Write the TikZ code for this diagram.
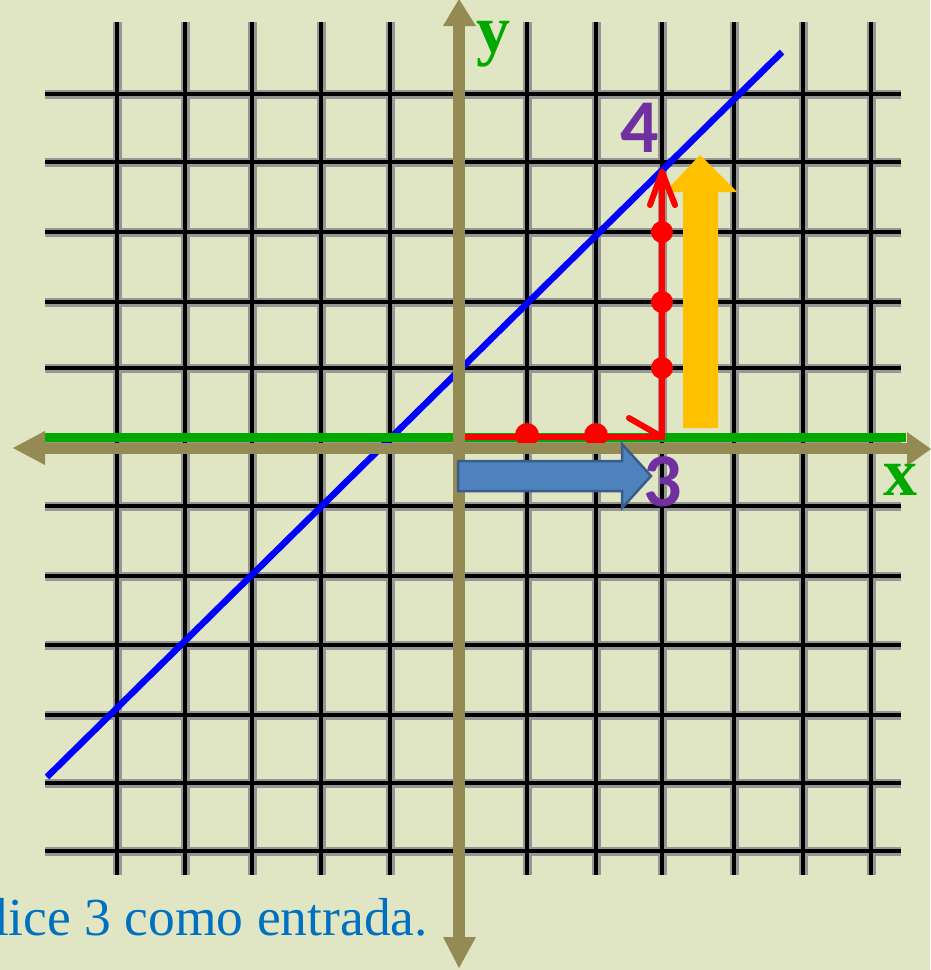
\documentclass[tikz,border=0pt]{standalone}
\usepackage{fontspec}
\setmainfont{Liberation Serif}
\newfontfamily\calibfont{Carlito}
\definecolor{bgc}{RGB}{224,230,196}
\definecolor{axiscol}{RGB}{148,138,84}
\definecolor{gridgray}{RGB}{150,150,150}
\definecolor{greenc}{RGB}{0,168,0}
\definecolor{redc}{RGB}{255,0,0}
\definecolor{yelc}{RGB}{255,192,0}
\definecolor{bluefill}{RGB}{79,129,189}
\definecolor{blueedge}{RGB}{56,93,138}
\definecolor{purp}{RGB}{112,48,160}
\definecolor{capcol}{RGB}{0,112,192}
\definecolor{linecol}{RGB}{0,0,255}
\tikzset{
  gridsh/.style={gridgray, line width=9pt},
  gridln/.style={black, line width=4.5pt},
  axisline/.style={axiscol, line width=11pt},
  axishead/.style={fill=axiscol, draw=none},
  redline/.style={redc, line width=6pt},
  reddot/.style={fill=redc},
  numlab/.style={purp, inner sep=0pt, font=\calibfont\bfseries\fontsize{76}{76}\selectfont},
  axlab/.style={greenc, inner sep=0pt, anchor=base, text height=33pt, text depth=15pt, font=\bfseries\fontsize{68}{68}\selectfont}
}
\begin{document}
\begin{tikzpicture}[x=1pt,y=-1pt]
\fill[bgc] (0,0) rectangle (930,970);
\useasboundingbox (0,0) rectangle (930,970);
% grid
\foreach \gx in {117,185,252,321,390,458,527,596,662,734,803,871}{
  \draw[gridsh] (\gx,22) -- (\gx,875);
}
\foreach \gy in {94,162,232,302,368,438,506,576,645,715,783,851}{
  \draw[gridsh] (45,\gy) -- (901,\gy);
}
\foreach \gx in {117,185,252,321,390,458,527,596,662,734,803,871}{
  \draw[gridln] (\gx,22) -- (\gx,875);
}
\foreach \gy in {94,162,232,302,368,438,506,576,645,715,783,851}{
  \draw[gridln] (45,\gy) -- (901,\gy);
}
% blue line y = x + 1
\coordinate (bl1) at (47,777);
\coordinate (bl2) at (782,52);
\draw[linecol, line width=6.5pt] (bl1) -- (bl2);
% green line
\coordinate (g1) at (45,437);
\coordinate (g2) at (906,437);
\draw[greenc, line width=9pt] (g1) -- (g2);
% yellow arrow
\fill[yelc] (683,428) -- (683,192) -- (665,192) -- (700,155) -- (737,192) -- (718,192) -- (718,428) -- cycle;
% red path
\coordinate (r0) at (465,437);
\coordinate (r1) at (662,437);
\coordinate (r2) at (662,172);
\fill[reddot] (527,435) circle (12);
\fill[reddot] (596,435) circle (12);
\draw[redline] (r0) -- (r1) -- (r2);
\draw[redline, line cap=round] (629,418) -- (r1);
\draw[redline, line cap=round] (r2) -- (650,205);
\draw[redline, line cap=round] (r2) -- (675,205);
\fill[reddot] (662,368) circle (11);
\fill[reddot] (662,302) circle (11);
\fill[reddot] (662,232) circle (11);
% axes
\coordinate (ax1) at (45,448);
\coordinate (ax2) at (908,448);
\coordinate (ay1) at (459,26);
\coordinate (ay2) at (459,937);
\draw[axisline] (ax1) -- (ax2);
\draw[axisline, line width=12pt] (ay1) -- (ay2);
\fill[axishead] (13,448) -- (45,431) -- (45,465) -- cycle;
\fill[axishead] (931,449) -- (907,432) -- (907,466) -- cycle;
\fill[axishead] (459,-1) -- (443,26) -- (476,26) -- cycle;
\fill[axishead] (459,968) -- (443,937) -- (476,937) -- cycle;
% blue block arrow
\filldraw[fill=bluefill, draw=blueedge, line width=2.5pt, line join=miter]
  (458,461) -- (622,461) -- (622,444) -- (651,476) -- (622,508) -- (622,491) -- (458,491) -- cycle;
% labels
\node[numlab] (four) at (640,128) {4};
\node[numlab] (three) at (663,482) {3};
\node[axlab] (ylab) at (493,52) {y};
\node[axlab] (xlab) at (900,495) {x};
\node[capcol, inner sep=0pt, anchor=base east, font=\fontsize{53.5}{53.5}\selectfont] (cap) at (428,935) {lice 3 como entrada.};
\end{tikzpicture}
\end{document}
